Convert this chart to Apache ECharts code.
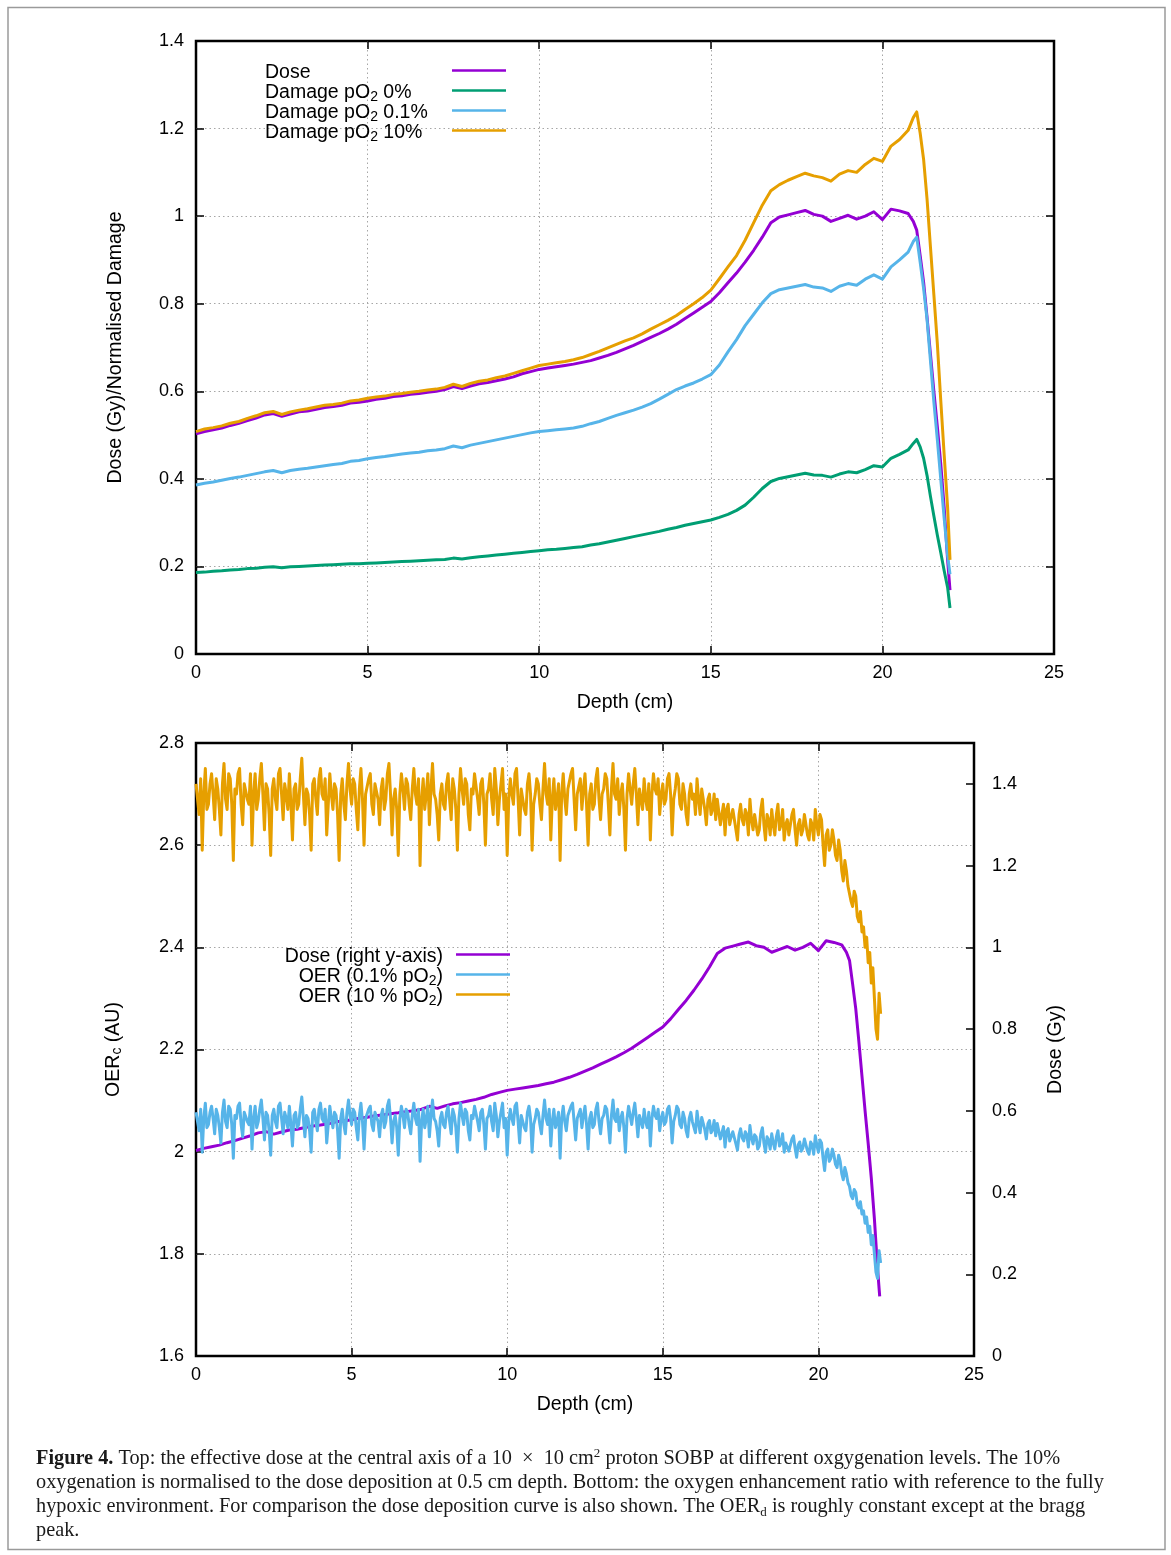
<!DOCTYPE html>
<html><head><meta charset="utf-8">
<script src="https://cdn.jsdelivr.net/npm/echarts@6/dist/echarts.min.js"></script>
<style>html,body{margin:0;padding:0;background:#fff}#c{width:1171px;height:1555px}</style>
</head><body><div id="c"></div>
<script>
// ---------- data ----------
const depthTop = [
 0,0.25,0.5,0.75, 1,1.25,1.5,1.75, 2,2.25,2.5,2.75, 3,3.25,3.5,3.75, 4,4.25,4.5,4.75,
 5,5.25,5.5,5.75, 6,6.25,6.5,6.75, 7,7.25,7.5,7.75, 8,8.25,8.5,8.75, 9,9.25,9.5,9.75,
 10,10.25,10.5,10.75, 11,11.25,11.5,11.75, 12,12.25,12.5,12.75, 13,13.25,13.5,13.75,
 14,14.25,14.5,14.75, 15,15.25,15.5,15.75, 16,16.25,16.5,16.75, 17,17.25,17.5,17.75,
 18,18.25,18.5,18.75, 19,19.25,19.5,19.75, 20,20.25,20.5,20.75,
 20.9,21,21.1,21.2,21.3,21.4,21.5,21.6,21.7,21.8,21.9,21.97];
const dose = [
 0.503,0.508,0.512,0.516, 0.522,0.527,0.533,0.539, 0.546,0.549,0.543,0.548, 0.553,0.555,0.559,0.563,
 0.565,0.568,0.573,0.575, 0.578,0.582,0.584,0.588, 0.590,0.593,0.595,0.598, 0.600,0.604,0.611,0.606,
 0.612,0.617,0.620,0.624, 0.628,0.633,0.640,0.645, 0.650,0.653,0.656,0.659, 0.662,0.666,0.670,0.676,
 0.682,0.689,0.697,0.705, 0.714,0.723,0.732,0.742, 0.753,0.766,0.779,0.792, 0.805,0.825,0.848,0.870,
 0.895,0.922,0.952,0.985, 0.998,1.003,1.008,1.013, 1.004,1.000,0.988,0.995, 1.002,0.993,1.000,1.010,
 0.992,1.016,1.012,1.006,
 0.988,0.968,0.910,0.850,0.770,0.685,0.600,0.520,0.435,0.335,0.215,0.146];
const damage0 = [
 0.186,0.187,0.189,0.190, 0.192,0.193,0.195,0.196, 0.198,0.199,0.197,0.199, 0.200,0.201,0.202,0.203,
 0.204,0.205,0.206,0.206, 0.207,0.208,0.209,0.210, 0.211,0.212,0.213,0.214, 0.215,0.216,0.219,0.217,
 0.220,0.222,0.224,0.226, 0.228,0.230,0.232,0.234, 0.236,0.238,0.239,0.241, 0.243,0.245,0.249,0.252,
 0.256,0.260,0.264,0.268, 0.272,0.276,0.280,0.285, 0.289,0.294,0.298,0.302, 0.306,0.312,0.319,0.328,
 0.340,0.358,0.378,0.394, 0.401,0.405,0.409,0.413, 0.409,0.408,0.404,0.411, 0.416,0.414,0.421,0.430,
 0.427,0.447,0.456,0.466,
 0.481,0.490,0.473,0.447,0.408,0.360,0.315,0.272,0.232,0.190,0.152,0.105];
const damage01 = [
 0.386,0.390,0.393,0.397, 0.401,0.404,0.408,0.412, 0.416,0.419,0.414,0.419, 0.422,0.424,0.427,0.430,
 0.433,0.435,0.440,0.442, 0.446,0.449,0.451,0.454, 0.457,0.459,0.461,0.464, 0.466,0.469,0.475,0.471,
 0.477,0.481,0.485,0.489, 0.493,0.497,0.501,0.505, 0.508,0.510,0.512,0.514, 0.516,0.520,0.526,0.531,
 0.538,0.545,0.551,0.557, 0.564,0.572,0.582,0.593, 0.604,0.612,0.619,0.628, 0.638,0.660,0.690,0.718,
 0.750,0.776,0.802,0.823, 0.832,0.836,0.840,0.844, 0.838,0.836,0.828,0.840, 0.846,0.842,0.856,0.866,
 0.856,0.884,0.900,0.918,
 0.942,0.952,0.895,0.835,0.765,0.670,0.575,0.490,0.400,0.310,0.225,0.182];
const damage10 = [
 0.508,0.514,0.517,0.521, 0.527,0.531,0.538,0.544, 0.551,0.554,0.547,0.553, 0.557,0.560,0.564,0.568,
 0.570,0.573,0.578,0.580, 0.584,0.587,0.589,0.593, 0.595,0.598,0.600,0.603, 0.605,0.609,0.616,0.611,
 0.618,0.623,0.626,0.631, 0.635,0.641,0.647,0.653, 0.659,0.662,0.665,0.668, 0.672,0.677,0.684,0.691,
 0.699,0.707,0.715,0.722, 0.731,0.742,0.752,0.762, 0.773,0.787,0.800,0.814, 0.831,0.857,0.884,0.910,
 0.945,0.985,1.025,1.058, 1.072,1.082,1.090,1.098, 1.092,1.088,1.080,1.096, 1.104,1.100,1.118,1.132,
 1.125,1.160,1.175,1.196,
 1.225,1.238,1.190,1.130,1.040,0.930,0.820,0.710,0.580,0.455,0.335,0.215];

// OER curves, sampled every 0.05 cm from 0 to 22 cm (one row = 1 cm)
const oerStep = 0.05;
const oer10 = [
 2.72,2.69,2.66,2.73,2.59,2.70,2.75,2.67,2.68,2.72,2.74,2.70,2.65,2.73,2.71,2.67,2.62,2.72,2.76,2.69,
 2.67,2.74,2.73,2.68,2.57,2.71,2.70,2.74,2.75,2.68,2.64,2.72,2.72,2.69,2.68,2.74,2.60,2.70,2.74,2.67,
 2.69,2.73,2.76,2.70,2.63,2.72,2.71,2.66,2.58,2.71,2.73,2.69,2.67,2.74,2.75,2.70,2.65,2.72,2.70,2.67,
 2.74,2.68,2.61,2.71,2.72,2.67,2.68,2.73,2.77,2.70,2.64,2.71,2.70,2.66,2.59,2.72,2.73,2.69,2.66,2.73,
 2.75,2.70,2.69,2.73,2.62,2.68,2.74,2.70,2.67,2.72,2.71,2.66,2.57,2.70,2.73,2.68,2.65,2.72,2.76,2.71,
 2.68,2.73,2.72,2.67,2.63,2.71,2.75,2.69,2.60,2.70,2.70,2.73,2.74,2.68,2.66,2.72,2.72,2.69,2.64,2.71,
 2.73,2.67,2.69,2.74,2.76,2.70,2.62,2.69,2.71,2.67,2.58,2.70,2.74,2.71,2.67,2.73,2.72,2.68,2.65,2.71,
 2.75,2.70,2.68,2.73,2.56,2.69,2.73,2.67,2.70,2.74,2.64,2.71,2.76,2.70,2.69,2.66,2.61,2.70,2.72,2.68,
 2.67,2.72,2.74,2.69,2.65,2.73,2.71,2.67,2.59,2.70,2.75,2.71,2.68,2.73,2.72,2.66,2.63,2.71,2.70,2.74,
 2.74,2.69,2.66,2.72,2.73,2.68,2.60,2.70,2.71,2.74,2.69,2.66,2.75,2.71,2.64,2.69,2.72,2.75,2.67,2.70,
 2.58,2.69,2.73,2.70,2.68,2.74,2.75,2.69,2.62,2.71,2.71,2.67,2.66,2.72,2.74,2.70,2.59,2.68,2.70,2.73,
 2.72,2.68,2.65,2.71,2.76,2.70,2.68,2.73,2.61,2.69,2.73,2.67,2.69,2.72,2.57,2.70,2.74,2.69,2.66,2.71,
 2.71,2.74,2.75,2.69,2.63,2.70,2.70,2.73,2.67,2.71,2.74,2.68,2.60,2.70,2.72,2.67,2.68,2.73,2.75,2.69,
 2.65,2.70,2.71,2.74,2.73,2.68,2.62,2.71,2.76,2.70,2.69,2.73,2.66,2.70,2.72,2.67,2.59,2.70,2.74,2.71,
 2.68,2.72,2.75,2.70,2.64,2.71,2.71,2.67,2.73,2.69,2.67,2.72,2.61,2.70,2.74,2.71,2.70,2.73,2.66,2.70,
 2.72,2.68,2.69,2.73,2.74,2.70,2.62,2.69,2.71,2.74,2.73,2.68,2.67,2.72,2.70,2.66,2.64,2.70,2.72,2.69,
 2.70,2.66,2.73,2.69,2.66,2.71,2.71,2.67,2.64,2.69,2.70,2.66,2.67,2.70,2.65,2.69,2.69,2.64,2.66,2.68,
 2.62,2.67,2.68,2.64,2.64,2.67,2.67,2.63,2.61,2.66,2.68,2.65,2.64,2.67,2.66,2.62,2.69,2.65,2.63,2.66,
 2.66,2.62,2.63,2.67,2.69,2.64,2.61,2.66,2.65,2.62,2.67,2.64,2.62,2.66,2.68,2.63,2.64,2.67,2.61,2.64,
 2.65,2.62,2.62,2.66,2.67,2.63,2.60,2.64,2.65,2.62,2.63,2.66,2.66,2.62,2.61,2.65,2.64,2.61,2.67,2.64,
 2.62,2.66,2.65,2.60,2.56,2.62,2.63,2.59,2.60,2.63,2.61,2.58,2.57,2.61,2.59,2.55,2.53,2.57,2.55,2.52,
 2.52,2.49,2.48,2.51,2.50,2.46,2.45,2.47,2.43,2.44,2.40,2.42,2.37,2.39,2.33,2.36,2.30,2.24,2.22,2.31,
 2.27];
const oer01 = [
 2.077,2.059,2.041,2.083,1.999,2.065,2.095,2.047,2.053,2.077,2.089,2.065,2.035,2.083,2.071,2.047,2.017,2.077,2.101,2.059,
 2.047,2.089,2.083,2.053,1.987,2.071,2.065,2.089,2.095,2.053,2.029,2.077,2.077,2.059,2.053,2.089,2.005,2.065,2.089,2.047,
 2.059,2.083,2.101,2.065,2.023,2.077,2.071,2.041,1.993,2.071,2.083,2.059,2.047,2.089,2.095,2.065,2.035,2.077,2.065,2.047,
 2.089,2.053,2.011,2.071,2.077,2.047,2.053,2.083,2.107,2.065,2.029,2.071,2.065,2.041,1.999,2.077,2.083,2.059,2.041,2.083,
 2.095,2.065,2.059,2.083,2.017,2.053,2.089,2.065,2.047,2.077,2.071,2.041,1.987,2.065,2.083,2.053,2.035,2.077,2.101,2.071,
 2.053,2.083,2.077,2.047,2.023,2.071,2.095,2.059,2.005,2.065,2.065,2.083,2.089,2.053,2.041,2.077,2.077,2.059,2.029,2.071,
 2.083,2.047,2.059,2.089,2.101,2.065,2.017,2.059,2.071,2.047,1.993,2.065,2.089,2.071,2.047,2.083,2.077,2.053,2.035,2.071,
 2.095,2.065,2.053,2.083,1.981,2.059,2.083,2.047,2.065,2.089,2.029,2.071,2.101,2.065,2.059,2.041,2.011,2.065,2.077,2.053,
 2.047,2.077,2.089,2.059,2.035,2.083,2.071,2.047,1.999,2.065,2.095,2.071,2.053,2.083,2.077,2.041,2.023,2.071,2.065,2.089,
 2.089,2.059,2.041,2.077,2.083,2.053,2.005,2.065,2.071,2.089,2.059,2.041,2.095,2.071,2.029,2.059,2.077,2.095,2.047,2.065,
 1.993,2.059,2.083,2.065,2.053,2.089,2.095,2.059,2.017,2.071,2.071,2.047,2.041,2.077,2.089,2.065,1.999,2.053,2.065,2.083,
 2.077,2.053,2.035,2.071,2.101,2.065,2.053,2.083,2.011,2.059,2.083,2.047,2.059,2.077,1.987,2.065,2.089,2.059,2.041,2.071,
 2.071,2.089,2.095,2.059,2.023,2.065,2.065,2.083,2.047,2.071,2.089,2.053,2.005,2.065,2.077,2.047,2.053,2.083,2.095,2.059,
 2.035,2.065,2.071,2.089,2.083,2.053,2.017,2.071,2.101,2.065,2.059,2.083,2.041,2.065,2.077,2.047,1.999,2.065,2.089,2.071,
 2.053,2.077,2.095,2.065,2.029,2.071,2.071,2.047,2.083,2.059,2.047,2.077,2.011,2.065,2.089,2.071,2.065,2.083,2.041,2.065,
 2.077,2.053,2.059,2.083,2.089,2.065,2.017,2.059,2.071,2.089,2.083,2.053,2.047,2.077,2.065,2.041,2.029,2.065,2.077,2.059,
 2.061,2.037,2.079,2.055,2.037,2.067,2.067,2.043,2.025,2.055,2.061,2.037,2.043,2.061,2.031,2.055,2.055,2.025,2.037,2.049,
 2.009,2.039,2.045,2.021,2.021,2.039,2.039,2.015,2.003,2.033,2.045,2.027,2.021,2.039,2.033,2.009,2.051,2.027,2.015,2.033,
 2.029,2.005,2.011,2.035,2.047,2.017,1.999,2.029,2.023,2.005,2.035,2.017,2.005,2.029,2.041,2.011,2.017,2.035,1.999,2.017,
 2.019,2.001,2.001,2.025,2.031,2.007,1.989,2.013,2.019,2.001,2.007,2.025,2.025,2.001,1.995,2.019,2.013,1.995,2.031,2.013,
 1.999,2.023,2.017,1.987,1.963,1.999,2.005,1.981,1.987,2.005,1.993,1.975,1.969,1.993,1.981,1.957,1.945,1.969,1.957,1.939,
 1.932,1.914,1.908,1.926,1.920,1.896,1.890,1.902,1.878,1.884,1.860,1.872,1.842,1.854,1.818,1.836,1.800,1.764,1.752,1.806,
 1.782];

const depthTicks = [0, 25, 5];       // min, max, interval
const topYTicks = [0, 1.4, 0.2];
const oerYTicks = [1.6, 2.8, 0.2];
const doseYTicks = [0, 1.5, 0.2];

// ---------- chart ----------
const FONT = '"Liberation Sans", Arial, sans-serif';
const SERIF = '"Liberation Serif", "Times New Roman", serif';
const C = {dose:'#9400d3', d0:'#009e73', d01:'#56b4e9', d10:'#e69f00'};
const zip = (xs, ys) => ys.map((y, i) => [xs[i], y]);
const oerDepth = oer10.map((_, i) => Math.round(i * oerStep * 100) / 100);

const tickStyle = {show:true, inside:true, length:8, lineStyle:{color:'#000', width:1.5}};
const splitStyle = {show:true, showMinLine:false, showMaxLine:false, lineStyle:{color:'#a6a6a6', width:1, type:[1.5,3]}};
const noLine = {show:false, onZero:false};
const labelStyle = {color:'#000', fontFamily:FONT, fontSize:18};
const nameStyle = {color:'#000', fontFamily:FONT, fontSize:19.5};

function xAx(grid, pos, withLabels) {
  const a = {gridIndex:grid, type:'value', position:pos, min:depthTicks[0], max:depthTicks[1], interval:depthTicks[2],
    axisLine:noLine, axisTick:tickStyle,
    axisLabel: withLabels ? Object.assign({margin:10}, labelStyle) : {show:false},
    splitLine: withLabels ? splitStyle : {show:false}};
  if (withLabels) Object.assign(a, {name:'Depth (cm)', nameLocation:'middle', nameGap:39, nameTextStyle:nameStyle});
  return a;
}

const topLegendText = {
  'Dose': '{t|Dose}{s| }',
  'Damage pO2 0%': '{t|Damage pO}{s|2}{t| 0%}',
  'Damage pO2 0.1%': '{t|Damage pO}{s|2}{t| 0.1%}',
  'Damage pO2 10%': '{t|Damage pO}{s|2}{t| 10%}'
};
const botLegendText = {
  'Dose (right y-axis)': '{s| }{t|Dose (right y-axis)}{g| }',
  'OER (0.1% pO2)': '{t|OER (0.1% pO}{s|2}{t|)}{g| }',
  'OER (10 % pO2)': '{t|OER (10 % pO}{s|2}{t|)}{g| }'
};

const caption = [
 '{b|Figure 4.}{n| Top: the effective dose at the central axis of a 10  \u00d7  10 cm}{sup|2}{n| proton SOBP at different oxgygenation levels. The 10%}',
 '{n|oxygenation is normalised to the dose deposition at 0.5 cm depth. Bottom: the oxygen enhancement ratio with reference to the fully}',
 '{n|hypoxic environment. For comparison the dose deposition curve is also shown. The OER}{sub|d}{n| is roughly constant except at the bragg}',
 '{n|peak.}'
].join('\n');

const legendRich = (al) => ({
  t:{fontFamily:FONT, fontSize:19.5, lineHeight:19, align:al, verticalAlign:'top', padding:[2,0,0,0], color:'#000'},
  s:{fontFamily:FONT, fontSize:14, lineHeight:13, align:al, verticalAlign:'top', padding:[9,0,0,0], color:'#000'},
  g:{fontFamily:FONT, fontSize:18, width:8, align:al, lineHeight:19}
});

const chart = echarts.init(document.getElementById('c'), null, {renderer:'canvas'});
const lineColors = [C.dose, C.d0, C.d01, C.d10, C.dose, C.d01, C.d10];
const lineWidths = [3, 3, 3, 3, 3, 3, 3];
const option = {
  animation:false,
  backgroundColor:'#fff',
  textStyle:{fontFamily:FONT},
  graphic:[{type:'rect', silent:true, z:-1, shape:{x:8, y:7.5, width:1157, height:1542},
            style:{fill:'none', stroke:'#9a9a9a', lineWidth:1.5}}],
  title:{
    left:36, top:1447, padding:0,
    text:caption,
    textStyle:{fontFamily:SERIF, fontSize:20.3, lineHeight:24, color:'#1a1a1a', fontWeight:'normal',
      rich:{
        b:{fontFamily:SERIF, fontSize:20.3, lineHeight:24, fontWeight:'bold', color:'#1a1a1a'},
        n:{fontFamily:SERIF, fontSize:20.3, lineHeight:24, color:'#1a1a1a'},
        sup:{fontFamily:SERIF, fontSize:13, lineHeight:10, verticalAlign:'top', color:'#1a1a1a'},
        sub:{fontFamily:SERIF, fontSize:13, lineHeight:14, verticalAlign:'bottom', color:'#1a1a1a'}
      }}
  },
  grid:[
    {left:196, top:41, width:858, height:613, show:true, borderColor:'#000', borderWidth:2.5, backgroundColor:'transparent', outerBoundsMode:'none'},
    {left:196, top:743, width:778, height:613, show:true, borderColor:'#000', borderWidth:2.5, backgroundColor:'transparent', outerBoundsMode:'none'}
  ],
  xAxis:[ xAx(0,'bottom',true), xAx(0,'top',false), xAx(1,'bottom',true), xAx(1,'top',false) ],
  yAxis:[
    {gridIndex:0, type:'value', position:'left', min:topYTicks[0], max:topYTicks[1], interval:topYTicks[2],
     axisLine:noLine, axisTick:tickStyle, axisLabel:Object.assign({margin:12}, labelStyle), splitLine:splitStyle,
     name:'Dose (Gy)/Normalised Damage', nameLocation:'middle', nameGap:70, nameRotate:90, nameTextStyle:nameStyle},
    {gridIndex:0, type:'value', position:'right', min:topYTicks[0], max:topYTicks[1], interval:topYTicks[2],
     axisLine:noLine, axisTick:tickStyle, axisLabel:{show:false}, splitLine:{show:false}},
    {gridIndex:1, type:'value', position:'left', min:oerYTicks[0], max:oerYTicks[1], interval:oerYTicks[2],
     axisLine:noLine, axisTick:tickStyle, axisLabel:Object.assign({margin:12}, labelStyle), splitLine:splitStyle,
     name:'{o|OER}{s|c}{o| (AU)}', nameLocation:'middle', nameGap:72, nameRotate:90,
     nameTextStyle:Object.assign({rich:{o:{fontFamily:FONT, fontSize:19.5, color:'#000', lineHeight:20},
                                         s:{fontFamily:FONT, fontSize:14, color:'#000', lineHeight:14, verticalAlign:'bottom'}}}, nameStyle)},
    {gridIndex:1, type:'value', position:'right', min:doseYTicks[0], max:doseYTicks[1], interval:doseYTicks[2],
     axisLine:noLine, axisTick:tickStyle, splitLine:{show:false},
     axisLabel:Object.assign({margin:18, formatter:v => v > 1.45 ? '' : String(Math.round(v*10)/10)}, labelStyle),
     name:'Dose (Gy)', nameLocation:'middle', nameGap:72, nameRotate:90, nameTextStyle:nameStyle}
  ],
  legend:[
    {orient:'vertical', left:265, top:61, padding:0, itemGap:-3, align:'right', icon:'rect',
     itemWidth:54, itemHeight:2.5, selectedMode:false,
     data:['Dose','Damage pO2 0%','Damage pO2 0.1%','Damage pO2 10%'],
     formatter:n => topLegendText[n],
     textStyle:{width:182, color:'#000', fontFamily:FONT, fontSize:19.5, rich:legendRich('left')}},
    {orient:'vertical', right:661, top:945, padding:0, itemGap:-3, align:'right', icon:'rect',
     itemWidth:54, itemHeight:2.5, selectedMode:false,
     data:['Dose (right y-axis)','OER (0.1% pO2)','OER (10 % pO2)'],
     formatter:n => botLegendText[n],
     textStyle:{color:'#000', fontFamily:FONT, fontSize:19.5, rich:legendRich('right')}}
  ],
  series:[
    {name:'Dose', type:'line', xAxisIndex:0, yAxisIndex:0, data:zip(depthTop, dose)},
    {name:'Damage pO2 0%', type:'line', xAxisIndex:0, yAxisIndex:0, data:zip(depthTop, damage0)},
    {name:'Damage pO2 0.1%', type:'line', xAxisIndex:0, yAxisIndex:0, data:zip(depthTop, damage01)},
    {name:'Damage pO2 10%', type:'line', xAxisIndex:0, yAxisIndex:0, data:zip(depthTop, damage10)},
    {name:'Dose (right y-axis)', type:'line', xAxisIndex:2, yAxisIndex:3, data:zip(depthTop, dose)},
    {name:'OER (0.1% pO2)', type:'line', xAxisIndex:2, yAxisIndex:2, data:zip(oerDepth, oer01)},
    {name:'OER (10 % pO2)', type:'line', xAxisIndex:2, yAxisIndex:2, data:zip(oerDepth, oer10)}
  ].map((s, i) => Object.assign(s, {
    showSymbol:false, symbol:'none', sampling:null, smooth:false, silent:true,
    color:lineColors[i],
    lineStyle:{width:lineWidths[i], join:'round', color:lineColors[i]},
    emphasis:{disabled:true}
  }))
};
chart.setOption(option);
</script>
</body></html>
